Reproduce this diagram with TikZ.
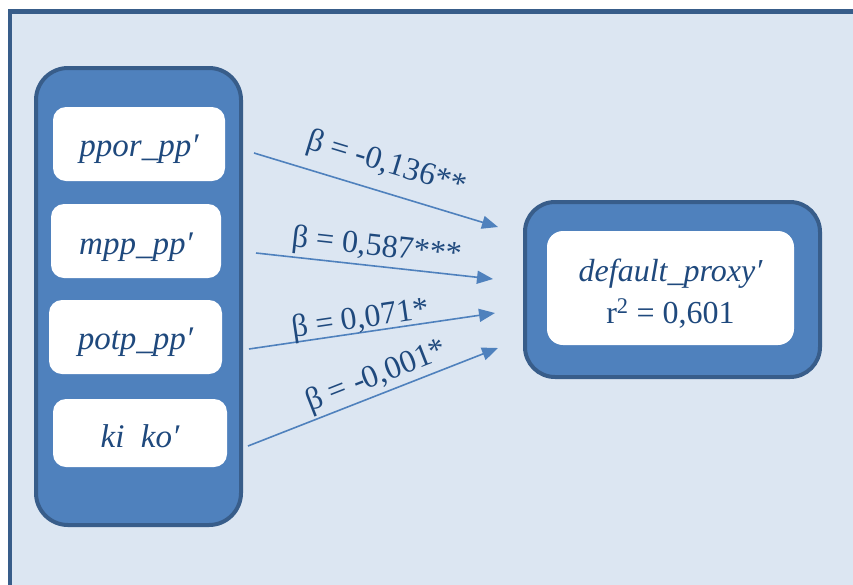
\documentclass[tikz,border=0pt]{standalone}
\usepackage{fontspec}
\setmainfont{Liberation Serif}
\usetikzlibrary{arrows.meta}
\definecolor{bgblue}{HTML}{DCE6F2}
\definecolor{midblue}{HTML}{4F81BD}
\definecolor{darkblue}{HTML}{385D8A}
\definecolor{txtblue}{HTML}{1F497D}
\tikzset{
  container/.style={draw=darkblue, line width=4pt, fill=midblue, rounded corners=32pt, inner sep=0pt},
  varbox/.style={fill=white, rounded corners=13pt, inner sep=0pt, text=txtblue, text height=25pt, text depth=0pt, font=\fontsize{33}{36}\selectfont\itshape},
  dvtext/.style={text=txtblue, inner sep=0pt, anchor=base, font=\fontsize{32}{36}\selectfont},
  conn/.style={draw=midblue, line width=1.6pt, -{Triangle[length=16pt,width=13pt]}},
  lbl/.style={text=txtblue, font=\fontsize{32}{35}\selectfont, inner sep=0pt, sloped}
}
\begin{document}
\begin{tikzpicture}[x=1pt,y=-1pt]
\useasboundingbox (0,0) rectangle (853,584);
% frame
\fill[bgblue] (10,12) rectangle (860,590);
\draw[darkblue, line width=4.5pt] (10,590) -- (10,11.5) -- (860,11.5);
% left container
\node[container, minimum width=205pt, minimum height=457pt] (left) at (138.5,296.5) {};
\node[varbox, minimum width=172pt, minimum height=74pt] (b1) at (139,144) {ppor\_pp′};
\node[varbox, minimum width=170pt, minimum height=74pt, text height=27pt] (b2) at (136,241) {mpp\_pp′};
\node[varbox, minimum width=173pt, minimum height=74pt] (b3) at (135.5,337) {potp\_pp′};
\node[varbox, minimum width=174pt, minimum height=68pt, text height=28pt] (b4) at (140,433) {ki\ \ ko′};
% right container
\node[container, rounded corners=30pt, minimum width=295pt, minimum height=175pt] (right) at (672.5,289.5) {};
\node[fill=white, rounded corners=16pt, inner sep=0pt, minimum width=247pt, minimum height=114pt] (dv) at (670.5,288) {};
\node[dvtext, font=\fontsize{32}{36}\selectfont\itshape] (dvname) at (670.5,281) {default\_proxy′};
\node[dvtext] (dvr) at (670.5,323) {r\textsuperscript{2} = 0,601};
% connector ends
\coordinate (s1) at (254,153); \coordinate (e1) at (498,227);
\coordinate (s2) at (256,253); \coordinate (e2) at (493,279);
\coordinate (s3) at (249,349); \coordinate (e3) at (495,313);
\coordinate (s4) at (248,446); \coordinate (e4) at (498,348);
\draw[conn] (s1) -- node[lbl, above=12pt, pos=0.51] {β = -0,136**} (e1);
\draw[conn] (s2) -- node[lbl, above=3pt, pos=0.5] {β = 0,587***} (e2);
\draw[conn] (s3) -- node[lbl, above=-3pt, pos=0.46] {β = 0,071*} (e3);
\draw[conn] (s4) -- node[lbl, above=2pt, pos=0.54] {β = -0,001*} (e4);
\end{tikzpicture}
\end{document}
